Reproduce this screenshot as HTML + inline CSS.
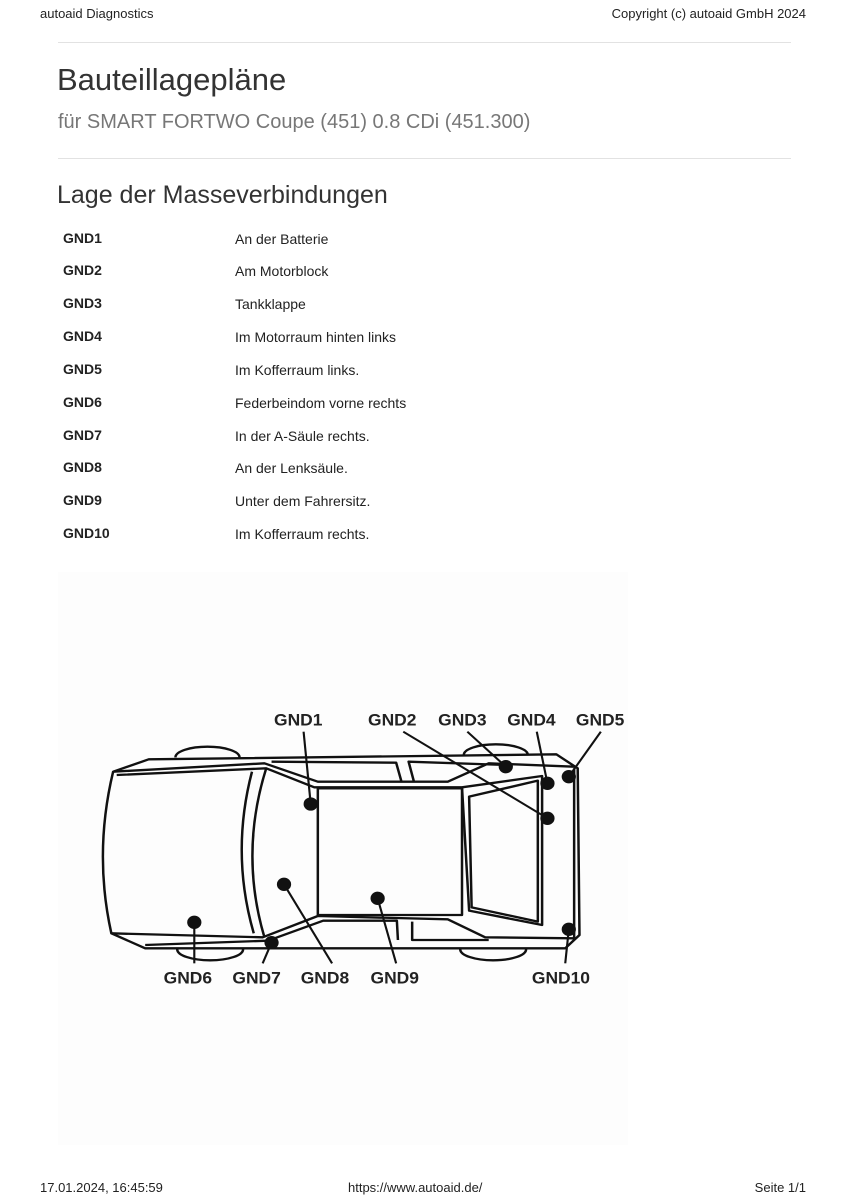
<!DOCTYPE html>
<html><head><meta charset="utf-8"><style>
body{margin:0;width:848px;height:1200px;background:#fff;position:relative;font-family:"Liberation Sans",Arial,sans-serif;color:#222;overflow:hidden}
.a{position:absolute;white-space:nowrap}
.hr{position:absolute;left:58px;width:733px;height:1px;background:#e2e2e2}
.k{position:absolute;left:63px;font-weight:bold;font-size:14px;color:#222}
.v{position:absolute;left:235px;font-size:14px;color:#222}
</style></head><body>
<div class="a" style="left:40px;top:6px;font-size:13px">autoaid Diagnostics</div>
<div class="a" style="right:42px;top:6px;font-size:13px">Copyright (c) autoaid GmbH 2024</div>
<div class="hr" style="top:42px"></div>
<div class="a" style="left:57px;top:62px;font-size:31px;color:#333">Bauteillagepläne</div>
<div class="a" style="left:58px;top:111px;font-size:20px;color:#777">für SMART FORTWO Coupe (451) 0.8 CDi (451.300)</div>
<div class="hr" style="top:158px"></div>
<div class="a" style="left:57px;top:181px;font-size:25px;color:#333">Lage der Masseverbindungen</div>
<div class="k" style="top:230px">GND1</div><div class="v" style="top:231px">An der Batterie</div>
<div class="k" style="top:262px">GND2</div><div class="v" style="top:263px">Am Motorblock</div>
<div class="k" style="top:295px">GND3</div><div class="v" style="top:296px">Tankklappe</div>
<div class="k" style="top:328px">GND4</div><div class="v" style="top:329px">Im Motorraum hinten links</div>
<div class="k" style="top:361px">GND5</div><div class="v" style="top:362px">Im Kofferraum links.</div>
<div class="k" style="top:394px">GND6</div><div class="v" style="top:395px">Federbeindom vorne rechts</div>
<div class="k" style="top:427px">GND7</div><div class="v" style="top:428px">In der A-Säule rechts.</div>
<div class="k" style="top:459px">GND8</div><div class="v" style="top:460px">An der Lenksäule.</div>
<div class="k" style="top:492px">GND9</div><div class="v" style="top:493px">Unter dem Fahrersitz.</div>
<div class="k" style="top:525px">GND10</div><div class="v" style="top:526px">Im Kofferraum rechts.</div>
<div class="a" style="left:58px;top:572px;width:570px;height:573px;background:#fdfdfd"></div>
<svg class="a" style="left:90px;top:700px" width="550" height="300" viewBox="0 0 1545 900" preserveAspectRatio="none">
<g fill="none" stroke="#111" stroke-width="7" stroke-linejoin="round">
<path d="M240 172 A90 32 0 0 1 420 172"/><path d="M1050 165 A90 32 0 0 1 1230 165"/>
<path d="M245 748 A90 32 0 0 0 430 748"/><path d="M1040 748 A90 32 0 0 0 1225 748"/>
<path d="M65 215 L165 178 L1310 163 L1370 205 L1375 705 L1335 745 L155 745 L60 700 Q10 460 65 215Z"/>
<path d="M65 215 L490 190 L640 245 L1005 245 L1120 190 L1360 200"/>
<path d="M75 225 L495 205 L630 262 L1045 262 L1270 228 L1270 675 L1065 632 L1045 262"/>
<path d="M1065 290 L1258 242 L1258 665 L1072 622Z"/>
<path d="M640 265 L1045 265 L1045 645 L640 645Z"/>
<path d="M510 185 L860 188 L875 245"/><path d="M910 245 L895 185 L1170 195"/>
<path d="M60 700 L485 712 L640 648 L1005 658 L1110 712 L1360 715"/>
<path d="M155 735 L500 722 L655 662 L862 662 L865 720 M905 665 L905 720 L1120 720"/>
<path d="M495 205 Q420 460 490 712"/><path d="M455 215 Q395 460 460 700"/>
<path d="M1360 205 L1360 715"/>
</g>
<g stroke="#111" stroke-width="6">
<line x1="600" y1="95" x2="620" y2="312"/><line x1="880" y1="95" x2="1285" y2="355"/>
<line x1="1060" y1="95" x2="1168" y2="200"/><line x1="1255" y1="95" x2="1285" y2="250"/>
<line x1="1435" y1="95" x2="1345" y2="230"/><line x1="293" y1="667" x2="293" y2="790"/>
<line x1="510" y1="728" x2="485" y2="790"/><line x1="545" y1="553" x2="680" y2="790"/>
<line x1="808" y1="595" x2="860" y2="790"/><line x1="1345" y1="688" x2="1335" y2="790"/>
</g>
<g fill="#111">
<circle cx="620" cy="312" r="20"/><circle cx="1168" cy="200" r="20"/><circle cx="1285" cy="250" r="20"/>
<circle cx="1345" cy="230" r="20"/><circle cx="1285" cy="355" r="20"/><circle cx="545" cy="553" r="20"/>
<circle cx="808" cy="595" r="20"/><circle cx="293" cy="667" r="20"/><circle cx="510" cy="728" r="20"/>
<circle cx="1345" cy="688" r="20"/>
</g>
<g font-family="Liberation Sans,Arial,sans-serif" font-weight="bold" font-size="49" fill="#222" text-anchor="middle">
<text x="585" y="76">GND1</text><text x="849" y="76">GND2</text><text x="1046" y="76">GND3</text>
<text x="1240" y="76">GND4</text><text x="1433" y="76">GND5</text>
<text x="275" y="850">GND6</text><text x="468" y="850">GND7</text><text x="660" y="850">GND8</text>
<text x="856" y="850">GND9</text><text x="1323" y="850">GND10</text>
</g>
</svg>
<div class="a" style="left:40px;top:1180px;font-size:13px">17.01.2024, 16:45:59</div>
<div class="a" style="left:348px;top:1180px;font-size:13px">https://www.autoaid.de/</div>
<div class="a" style="right:42px;top:1180px;font-size:13px">Seite 1/1</div>
</body></html>
